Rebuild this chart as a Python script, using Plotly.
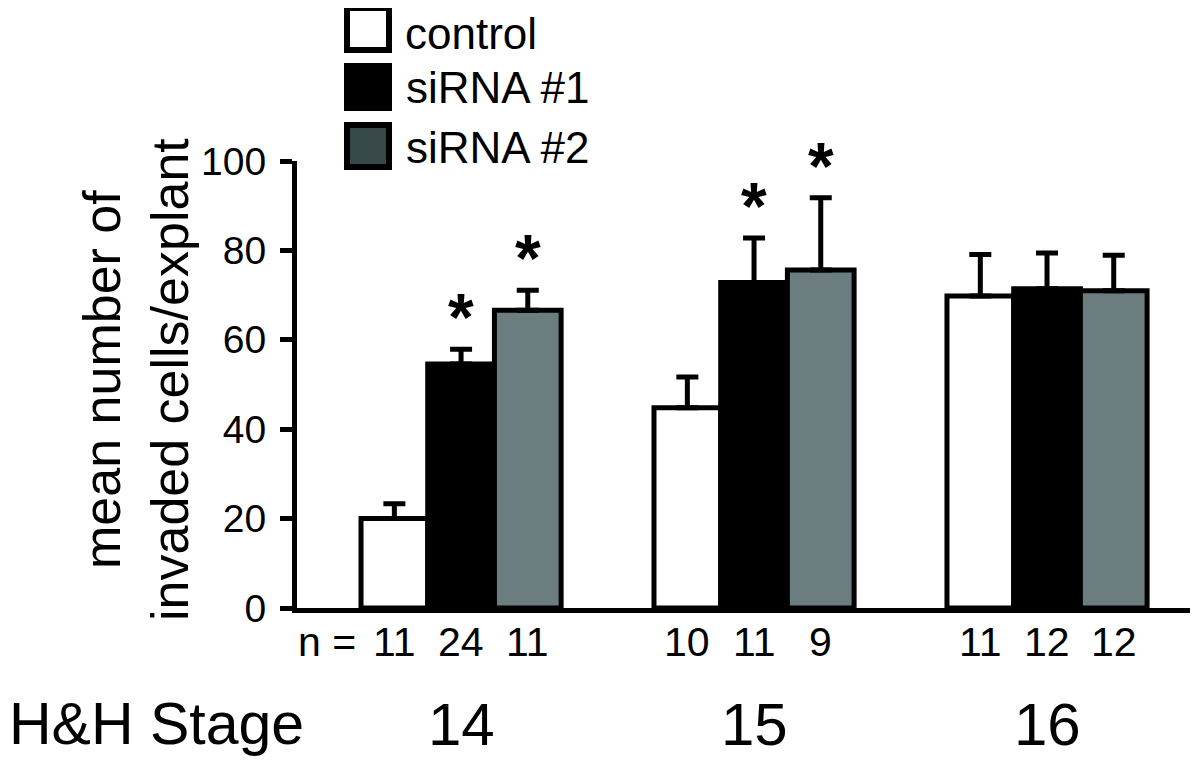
import plotly.graph_objects as go

# ---------------- data ----------------
stages = ["14", "15", "16"]
series = ["control", "siRNA #1", "siRNA #2"]

control_mean = [20.0, 44.8, 69.8]
control_err = [3.3, 6.9, 9.3]
sirna1_mean = [54.6, 72.8, 71.4]
sirna1_err = [3.3, 10.0, 8.0]
sirna2_mean = [66.6, 75.6, 71.0]
sirna2_err = [4.5, 16.2, 7.9]

n_control = [11, 10, 11]
n_sirna1 = [24, 11, 12]
n_sirna2 = [11, 9, 12]

sig_control = [False, False, False]
sig_sirna1 = [True, True, False]
sig_sirna2 = [True, True, False]

y_ticks = [0, 20, 40, 60, 80, 100]

# ---------------- layout helpers ----------------
FONT = "Liberation Sans, Arial, Helvetica, sans-serif"
OFF = 8  # default page body margin
W, H = 1200 - OFF, 768 - OFF
L, R, T, B = 297 - OFF, 10, 161 - OFF, 160
PW, PH = W - L - R, H - T - B


def px(x):
    # x in screen pixels -> paper fraction
    return (x - OFF - L) / PW


def py(y):
    # y in screen pixels -> paper fraction
    return (H - B - (y - OFF)) / PH


BARGAP = 0.317
bw = (1 - BARGAP) / 3
offsets = [(j - 1) * bw for j in range(3)]

means = [control_mean, sirna1_mean, sirna2_mean]
errs = [control_err, sirna1_err, sirna2_err]
ns = [n_control, n_sirna1, n_sirna2]
sigs = [sig_control, sig_sirna1, sig_sirna2]
fills = ["#ffffff", "#000000", "#6b7d7e"]
legend_fills = ["#ffffff", "#000000", "#374949"]

xpos = list(range(len(stages)))

fig = go.Figure()
for j in range(3):
    fig.add_trace(go.Bar(
        x=xpos, y=means[j], name=series[j],
        marker=dict(color=fills[j], line=dict(color="black", width=5)),
        error_y=dict(type="data", array=errs[j], arrayminus=[0] * len(xpos),
                     symmetric=False, color="black", thickness=5, width=11),
        showlegend=False,
    ))

annotations = []
# n labels + asterisks
for j in range(3):
    for i in xpos:
        annotations.append(dict(
            x=i + offsets[j], xref="x", y=py(642), yref="paper",
            text=str(ns[j][i]), showarrow=False, xanchor="center", yanchor="middle",
            font=dict(size=41, color="black", family=FONT)))
        if sigs[j][i]:
            annotations.append(dict(
                x=i + offsets[j], xref="x", y=means[j][i] + errs[j][i], yref="y",
                text="<b>*</b>", showarrow=False, xanchor="center", yanchor="bottom",
                yshift=-7, font=dict(size=66, color="black", family=FONT)))

annotations.append(dict(x=px(358), xref="paper", y=py(642), yref="paper", text="n =",
                        showarrow=False, xanchor="right", yanchor="middle",
                        font=dict(size=41, color="black", family=FONT)))
# stage labels
for i in xpos:
    annotations.append(dict(x=i, xref="x", y=py(724), yref="paper", text=stages[i],
                            showarrow=False, xanchor="center", yanchor="middle",
                            font=dict(size=60, color="black", family=FONT)))
annotations.append(dict(x=px(OFF), xref="paper", y=py(724), yref="paper", text="H&H Stage",
                        showarrow=False, xanchor="left", yanchor="middle", borderpad=0,
                        font=dict(size=59, color="black", family=FONT)))
# y-axis title
annotations.append(dict(x=px(136), xref="paper", y=py(380), yref="paper",
                        text="mean number of<br>invaded cells/explant", textangle=-90,
                        showarrow=False, xanchor="center", yanchor="middle",
                        font=dict(size=52, color="black", family=FONT)))

# manual legend
shapes = []
box_tops = [5, 63, 122]
for j in range(3):
    t0 = box_tops[j]
    shapes.append(dict(type="rect", xref="paper", yref="paper",
                       x0=px(347), x1=px(389), y0=py(t0 + 45), y1=py(t0 + 3),
                       fillcolor=legend_fills[j], line=dict(color="black", width=6)))
    if j == 0:
        annotations.append(dict(x=px(404), xref="paper", y=py(OFF), yref="paper",
                                text=series[j], showarrow=False, xanchor="left", yanchor="top",
                                borderpad=0, font=dict(size=44, color="black", family=FONT)))
    else:
        annotations.append(dict(x=px(404), xref="paper", y=py(t0 + 25), yref="paper",
                                text=series[j], showarrow=False, xanchor="left", yanchor="middle",
                                font=dict(size=44, color="black", family=FONT)))

fig.update_layout(
    width=W, height=H,
    margin=dict(l=L, r=R, t=T, b=B, pad=0),
    paper_bgcolor="white", plot_bgcolor="white",
    barmode="group", bargap=BARGAP, bargroupgap=0,
    font=dict(family=FONT, color="black"),
    xaxis=dict(range=[-0.56, 2.488], showline=True, linewidth=5, linecolor="black",
               showticklabels=False, ticks="", showgrid=False, zeroline=False),
    yaxis=dict(range=[0, 100], tickvals=y_ticks, ticks="outside", ticklen=12, tickwidth=5,
               tickcolor="black", showline=True, linewidth=5, linecolor="black",
               showgrid=False, zeroline=False, tickfont=dict(size=39, color="black", family=FONT),
               ticklabelstandoff=6),
    annotations=annotations,
    shapes=shapes,
)

fig.write_html("out.html")
